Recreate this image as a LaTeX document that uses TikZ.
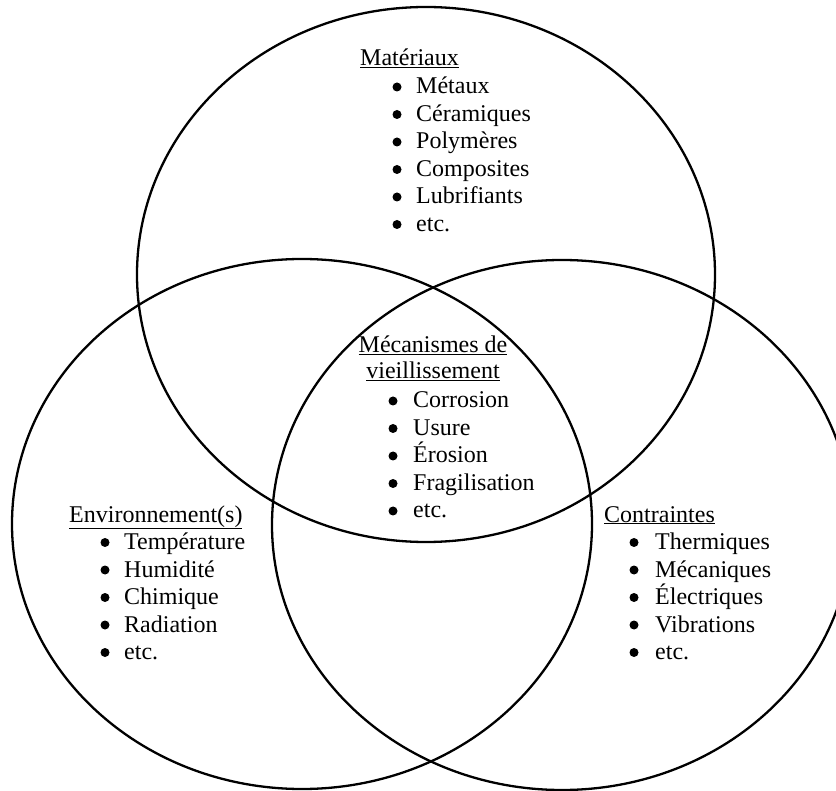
\documentclass[tikz,border=0pt]{standalone}
\usepackage{fontspec}
\setmainfont{Liberation Serif}
\usetikzlibrary{shapes.geometric}
\begin{document}
\begin{tikzpicture}[x=1pt,y=-1pt,
  zone/.style 2 args={draw, ellipse, line width=2.3pt, inner sep=0pt, outer sep=0pt,
                      minimum width=#1, minimum height=#2},
  heading/.style={anchor=base west, inner sep=0pt, font=\fontsize{24}{27.6}\selectfont},
  midheading/.style={anchor=base, inner sep=0pt, font=\fontsize{24}{27.6}\selectfont},
  entry/.style={anchor=base west, inner sep=0pt, font=\fontsize{24}{27.6}\selectfont},
  dot/.style={circle, fill, inner sep=0pt, minimum size=9pt}]
\useasboundingbox (0,0) rectangle (836,791);
\clip (0,0) rectangle (836,791);

% the three overlapping domains
\node[zone={578pt}{535pt}] (materials) at (426,274.5) {};
\node[zone={580pt}{530pt}] (environment) at (302,524) {};
\node[zone={580pt}{530pt}] (stresses) at (562,525) {};

% materials
\node[heading] (mat-t) at (360,66) {\underline{Matériaux}};
\foreach \w [count=\i] in {Métaux,Céramiques,Polymères,Composites,Lubrifiants,etc.} {
  \node[dot] (mat-b\i) at ({397},{87+27.5*(\i-1)}) {};
  \node[entry] (mat-\i) at ({416},{94+27.5*(\i-1)}) {\w};
}

% ageing mechanisms
\node[midheading] (mec-t1) at (433,353) {\underline{Mécanismes de}};
\node[midheading] (mec-t2) at (433,379) {\underline{vieillissement}};
\foreach \w [count=\i] in {Corrosion,Usure,Érosion,Fragilisation,etc.} {
  \node[dot] (mec-b\i) at ({393},{401+27.5*(\i-1)}) {};
  \node[entry] (mec-\i) at ({413},{408+27.5*(\i-1)}) {\w};
}

% environment
\node[heading] (env-t) at (69,522) {\underline{Environnement(s)}};
\foreach \w [count=\i] in {Température,Humidité,Chimique,Radiation,etc.} {
  \node[dot] (env-b\i) at ({105},{542.5+27.5*(\i-1)}) {};
  \node[entry] (env-\i) at ({124},{549.5+27.5*(\i-1)}) {\w};
}

% stresses
\node[heading] (str-t) at (604,522) {\underline{Contraintes}};
\foreach \w [count=\i] in {Thermiques,Mécaniques,Électriques,Vibrations,etc.} {
  \node[dot] (str-b\i) at ({634},{542.5+27.5*(\i-1)}) {};
  \node[entry] (str-\i) at ({655},{549.5+27.5*(\i-1)}) {\w};
}
\end{tikzpicture}
\end{document}
